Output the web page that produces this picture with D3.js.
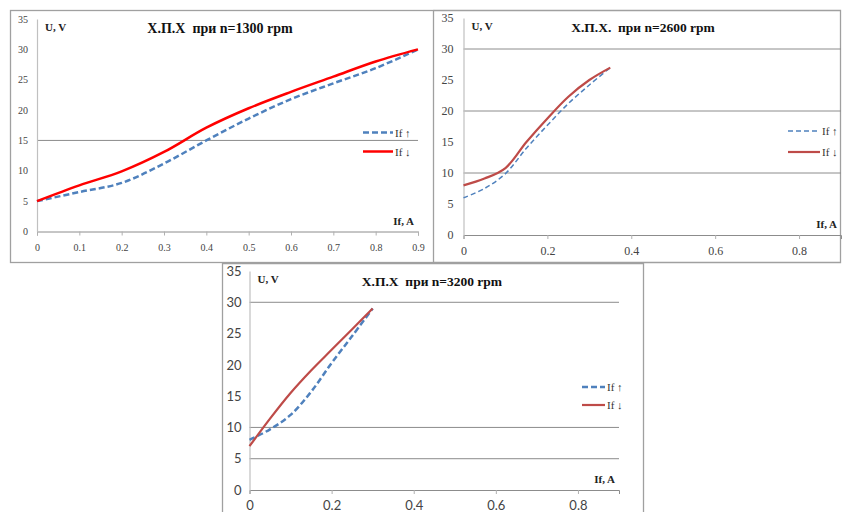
<!DOCTYPE html>
<html><head><meta charset="utf-8">
<script src="https://cdn.jsdelivr.net/npm/d3@7"></script>
<style>body{margin:0;background:#fff}svg{display:block}</style>
</head><body>
<svg id="c" width="845" height="512"></svg>
<script>
// ---- data ----
const titles = ["Х.П.Х\u00a0 при n=1300 rpm", "Х.П.Х.\u00a0 при n=2600 rpm", "Х.П.Х\u00a0 при n=3200 rpm"];
const legendLabels = ["If ↑", "If ↓"];
const yTicks = [0, 5, 10, 15, 20, 25, 30, 35];
const xTicks1 = [0, 0.1, 0.2, 0.3, 0.4, 0.5, 0.6, 0.7, 0.8, 0.9];
const xTicks23 = [0, 0.2, 0.4, 0.6, 0.8];

const x1 = [0, 0.1, 0.2, 0.3, 0.4, 0.5, 0.6, 0.7, 0.8, 0.9];
const up1 = [5, 6.5, 8.0, 11.2, 15.0, 18.6, 21.8, 24.4, 26.9, 30];
const down1 = [5, 7.6, 9.9, 13.1, 17.1, 20.3, 23.0, 25.5, 28.0, 30];

const x2 = [0, 0.05, 0.1, 0.15, 0.2, 0.25, 0.3, 0.35];
const up2 = [6, 7.5, 9.9, 14.0, 17.7, 21.2, 24.2, 27];
const down2 = [8, 9.1, 10.8, 15.0, 18.8, 22.3, 25.0, 27];

const x3 = [0, 0.05, 0.1, 0.15, 0.2, 0.25, 0.3];
const up3 = [8, 9.7, 12.0, 15.7, 20.3, 24.6, 29];
const down3 = [7, 11.4, 15.5, 19.1, 22.4, 25.7, 29];

const grid1 = [15];
const grid2 = [10, 20, 30];
const grid3 = [5, 10, 30];

// ---- drawing ----
const svg = d3.select("#c");

const frame = svg.append("g").attr("fill", "none").attr("stroke", "#a0a0a0").attr("stroke-width", 1.3);
frame.append("rect").attr("x", 10.5).attr("y", 10.5).attr("width", 423).attr("height", 252);
frame.append("path").attr("d", "M433.5,10.5H840.5V262.5H433.5");
frame.append("path").attr("d", "M222.5,520V263.5H643.5V520");

function chart(o) {
  const g = svg.append("g");
  const x = d3.scaleLinear().domain([0, 0.9]).range([o.left, o.right]);
  const y = d3.scaleLinear().domain([0, 35]).range([o.bottom, o.top]);

  g.selectAll(".grid").data(o.grid).join("line")
    .attr("x1", x(0)).attr("x2", x(0.9))
    .attr("y1", d => y(d)).attr("y2", d => y(d))
    .attr("stroke", "#8c8c8c").attr("stroke-width", 1);

  const xa = g.append("g").attr("transform", `translate(0,${y(0)})`)
    .call(d3.axisBottom(x).tickValues(o.xTicks).tickSize(4).tickFormat(d => d === 0 ? "0" : o.fmt(d)));
  xa.select(".domain").attr("stroke", "#8c8c8c");
  xa.selectAll(".tick line").attr("stroke", "#b0b0b0");
  xa.selectAll("text").attr("font-family", o.tickFont).attr("font-size", o.tickSize)
    .attr("fill", "#444").attr("dy", o.xdy);

  const ya = g.append("g").attr("transform", `translate(${x(0)},0)`)
    .call(d3.axisLeft(y).tickValues(yTicks).tickSize(0).tickPadding(o.yPad));
  ya.select(".domain").attr("stroke", "#c0c0c0").attr("stroke-width", 1.2);
  ya.selectAll("text").attr("font-family", o.tickFont).attr("font-size", o.tickSize)
    .attr("fill", "#444").attr("text-anchor", "end");

  const line = d3.line().x(d => x(d[0])).y(d => y(d[1])).curve(d3.curveCatmullRom.alpha(0.5));
  g.append("path").datum(d3.zip(o.xs, o.up)).attr("d", line).attr("fill", "none")
    .attr("stroke", "#4f81bd").attr("stroke-width", o.upW).attr("stroke-dasharray", o.dash);
  g.append("path").datum(d3.zip(o.xs, o.down)).attr("d", line).attr("fill", "none")
    .attr("stroke", o.red).attr("stroke-width", o.downW);

  g.append("text").attr("x", o.titleX).attr("y", o.titleY).attr("text-anchor", "middle")
    .attr("font-family", "Liberation Serif").attr("font-weight", "bold").attr("font-size", o.titleSize)
    .attr("fill", "#111").text(o.title);

  g.append("text").attr("x", x(0) + 8).attr("y", o.top + 12)
    .attr("font-family", "Liberation Serif").attr("font-weight", "bold").attr("font-size", 11)
    .attr("fill", "#222").text("U, V");
  g.append("text").attr("x", o.right - 4).attr("y", y(0) - 7).attr("text-anchor", "end")
    .attr("font-family", "Liberation Serif").attr("font-weight", "bold").attr("font-size", 11)
    .attr("fill", "#222").text("If, A");

  const lg = g.append("g");
  [0, 1].forEach(i => {
    const ly = o.legY + i * o.legGap;
    lg.append("line").attr("x1", o.legX).attr("x2", o.legX + o.legLen).attr("y1", ly).attr("y2", ly)
      .attr("stroke", i === 0 ? "#4f81bd" : o.red)
      .attr("stroke-width", i === 0 ? o.upW : o.downW)
      .attr("stroke-dasharray", i === 0 ? o.dash : null);
    lg.append("text").attr("x", o.legX + o.legLen + 2).attr("y", ly + 4)
      .attr("font-family", "Liberation Serif").attr("font-size", 11).attr("fill", "#333")
      .text(legendLabels[i]);
  });
}

chart({
  left: 37, right: 418, top: 19, bottom: 231.5, grid: grid1, xTicks: xTicks1,
  fmt: d3.format(""), tickFont: "Liberation Serif", tickSize: 10, xdy: "1.2em", yPad: 9,
  xs: x1, up: up1, down: down1, upW: 2.5, downW: 2.5, dash: "6,3", red: "#ff0000",
  title: titles[0], titleX: 220, titleY: 33, titleSize: 14,
  legX: 363, legLen: 30, legY: 132.5, legGap: 19
});
chart({
  left: 463.5, right: 841, top: 18, bottom: 235, grid: grid2, xTicks: xTicks23,
  fmt: d3.format(".1f"), tickFont: "Liberation Serif", tickSize: 12, xdy: "1.1em", yPad: 10,
  xs: x2, up: up2, down: down2, upW: 1.5, downW: 2.2, dash: "5,3", red: "#be4b48",
  title: titles[1], titleX: 643, titleY: 32, titleSize: 13.5,
  legX: 788, legLen: 32, legY: 131, legGap: 21
});
chart({
  left: 249.5, right: 619, top: 271, bottom: 490, grid: grid3, xTicks: xTicks23,
  fmt: d3.format(".1f"), tickFont: "Lato", tickSize: 13, xdy: "1.0em", yPad: 8,
  xs: x3, up: up3, down: down3, upW: 2.5, downW: 2.2, dash: "6,3", red: "#be4b48",
  title: titles[2], titleX: 432, titleY: 286, titleSize: 13.5,
  legX: 582, legLen: 23, legY: 387, legGap: 18
});
</script>
</body></html>
